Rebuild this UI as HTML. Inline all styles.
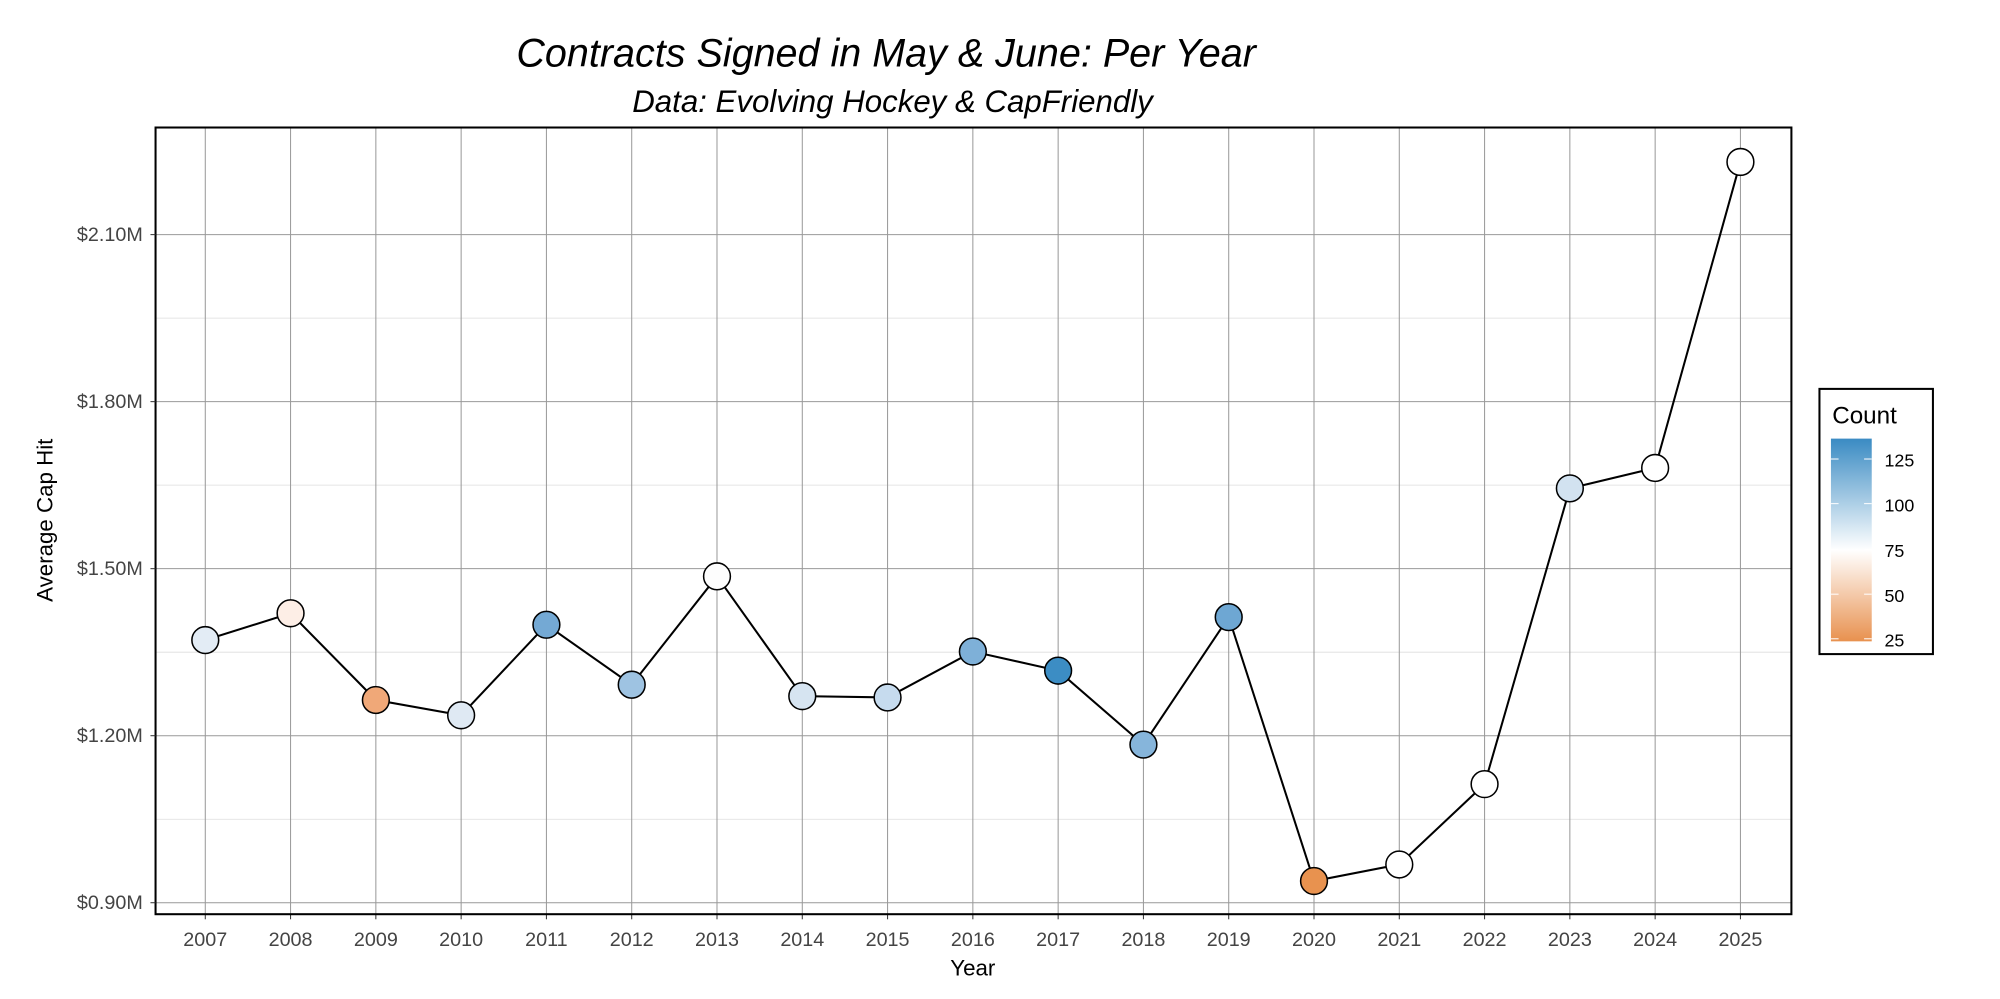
<!DOCTYPE html>
<html><head><meta charset="utf-8"><style>html,body{margin:0;padding:0;background:#fff;}svg{display:block;}</style></head>
<body>
<svg width="2000" height="999" viewBox="0 0 1568.6 783.5" xmlns="http://www.w3.org/2000/svg" font-family="Liberation Sans, sans-serif">
<defs>
<linearGradient id="g" x1="0" y1="1" x2="0" y2="0">
<stop offset="0" stop-color="#e8914f"/>
<stop offset="0.45" stop-color="#ffffff"/>
<stop offset="1" stop-color="#3a8bc3"/>
</linearGradient>
</defs>
<rect width="1568.6" height="783.5" fill="#fff"/>
<text x="695" y="52" font-size="31" font-style="italic" text-anchor="middle">Contracts Signed in May &amp; June: Per Year</text>
<text x="700" y="88" font-size="24.5" font-style="italic" text-anchor="middle">Data: Evolving Hockey &amp; CapFriendly</text>
<g stroke="#ddd" stroke-width="0.6">
<line x1="122" x2="1405" y1="249.5" y2="249.5"/><line x1="122" x2="1405" y1="380.5" y2="380.5"/><line x1="122" x2="1405" y1="511.5" y2="511.5"/><line x1="122" x2="1405" y1="642.5" y2="642.5"/>
</g>
<g stroke="#999" stroke-width="0.8">
<line x1="122" x2="1405" y1="184" y2="184"/><line x1="122" x2="1405" y1="315" y2="315"/><line x1="122" x2="1405" y1="446" y2="446"/><line x1="122" x2="1405" y1="577" y2="577"/><line x1="122" x2="1405" y1="708" y2="708"/>
</g>
<g id="vg" stroke="#999" stroke-width="0.8"></g>
<rect x="122" y="100" width="1283" height="617" fill="none" stroke="#000" stroke-width="1.6"/>
<g font-size="15.5" fill="#444" text-anchor="end">
<text x="112" y="189">$2.10M</text><text x="112" y="320">$1.80M</text><text x="112" y="451">$1.50M</text><text x="112" y="582">$1.20M</text><text x="112" y="713">$0.90M</text>
</g>
<g stroke="#333" stroke-width="0.8"><line x1="118" x2="122" y1="184" y2="184"/><line x1="118" x2="122" y1="315" y2="315"/><line x1="118" x2="122" y1="446" y2="446"/><line x1="118" x2="122" y1="577" y2="577"/><line x1="118" x2="122" y1="708" y2="708"/></g>
<g id="xl" font-size="15.5" fill="#444" text-anchor="middle"></g>
<text x="763" y="765" font-size="17.5" text-anchor="middle">Year</text>
<text transform="translate(41,408) rotate(-90)" font-size="17.5" text-anchor="middle">Average Cap Hit</text>
<polyline id="ln" fill="none" stroke="#000" stroke-width="1.6"/>
<g id="pts" stroke="#000" stroke-width="1.2"></g>
<rect x="1427" y="305" width="89" height="208" fill="#fff" stroke="#000" stroke-width="1.6"/>
<text x="1437" y="332" font-size="19">Count</text>
<rect x="1436" y="344" width="32" height="159" fill="url(#g)"/>
<g stroke="#fff" stroke-width="0.8">
<line x1="1436" x2="1442" y1="360" y2="360"/><line x1="1462" x2="1468" y1="360" y2="360"/>
<line x1="1436" x2="1442" y1="395" y2="395"/><line x1="1462" x2="1468" y1="395" y2="395"/>
<line x1="1436" x2="1442" y1="431" y2="431"/><line x1="1462" x2="1468" y1="431" y2="431"/>
<line x1="1436" x2="1442" y1="466" y2="466"/><line x1="1462" x2="1468" y1="466" y2="466"/>
<line x1="1436" x2="1442" y1="501" y2="501"/><line x1="1462" x2="1468" y1="501" y2="501"/>
</g>
<g font-size="14">
<text x="1478" y="366">125</text><text x="1478" y="401">100</text><text x="1478" y="437">75</text><text x="1478" y="472">50</text><text x="1478" y="507">25</text>
</g>
<script>
var ys=[502,481,549,561,490,537,452,546,547,511,526,584,484,691,678,615,383,367,127];
var cs=["#e3ecf5","#fdeee6","#f0a878","#dfe9f3","#74a9d4","#9ec3e2","#fdfdfd","#d6e4f1","#c6dbee","#7eb0d8","#3c8dc4","#86b5db","#6ea7d3","#e8924f","#fff","#fff","#d2e2f0","#fff","#fff"];
var ns="http://www.w3.org/2000/svg",vg=document.getElementById("vg"),xl=document.getElementById("xl"),pts=document.getElementById("pts"),p=[];
for(var i=0;i<19;i++){var x=161+i*66.89;
var l=document.createElementNS(ns,"line");l.setAttribute("x1",x);l.setAttribute("x2",x);l.setAttribute("y1",100);l.setAttribute("y2",717);vg.appendChild(l);
var t=document.createElementNS(ns,"line");t.setAttribute("x1",x);t.setAttribute("x2",x);t.setAttribute("y1",717);t.setAttribute("y2",721);t.setAttribute("stroke","#333");vg.appendChild(t);
var tx=document.createElementNS(ns,"text");tx.setAttribute("x",x);tx.setAttribute("y",742);tx.textContent=2007+i;xl.appendChild(tx);
p.push(x+","+ys[i]);
var c=document.createElementNS(ns,"circle");c.setAttribute("cx",x);c.setAttribute("cy",ys[i]);c.setAttribute("r",10.5);c.setAttribute("fill",cs[i]);pts.appendChild(c);}
document.getElementById("ln").setAttribute("points",p.join(" "));
</script>
</svg>
</body></html>
